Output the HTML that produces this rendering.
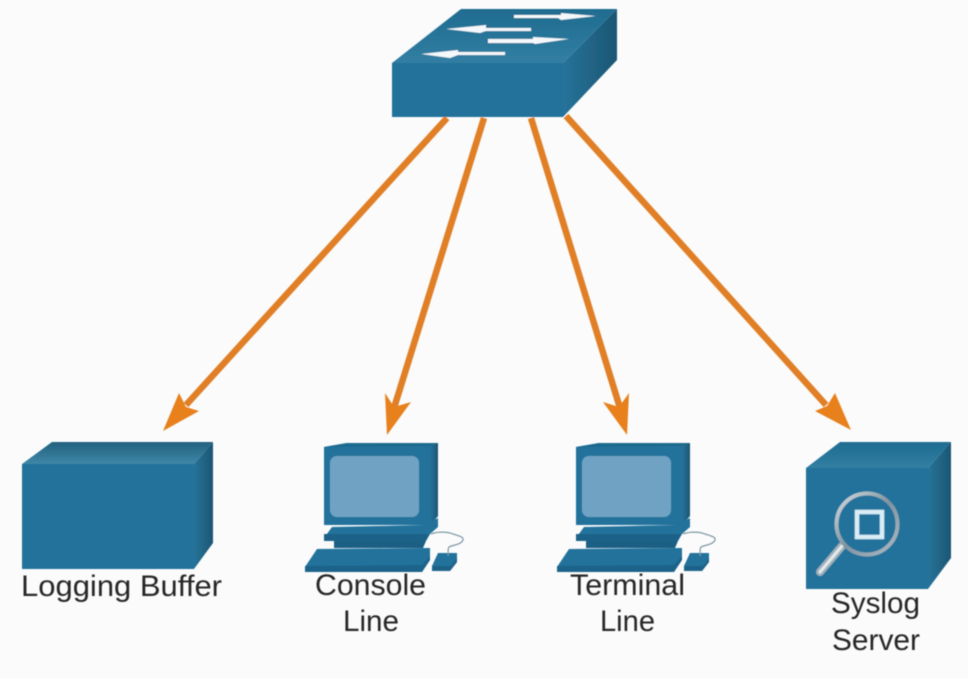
<!DOCTYPE html>
<html><head><meta charset="utf-8"><style>
html,body{margin:0;padding:0;background:#fbfbfb;width:968px;height:678px;overflow:hidden}
svg{display:block}
text{font-family:"Liberation Sans",Arial,sans-serif;font-size:30px;fill:#262626}
</style></head><body>
<svg width="968" height="678" viewBox="0 0 968 678" xmlns="http://www.w3.org/2000/svg">
<defs>
<linearGradient id="topG" x1="0" y1="0" x2="0" y2="1"><stop offset="0" stop-color="#22617f"/><stop offset="1" stop-color="#3f87a8"/></linearGradient>
<linearGradient id="swTop" x1="0" y1="0" x2="0" y2="1"><stop offset="0" stop-color="#1f6c90"/><stop offset="1" stop-color="#327fa3"/></linearGradient>
<linearGradient id="rightG" x1="0" y1="0" x2="1" y2="0"><stop offset="0" stop-color="#26739a"/><stop offset="1" stop-color="#1c5673"/></linearGradient>
<linearGradient id="ring" x1="0" y1="0" x2="1" y2="1"><stop offset="0" stop-color="#d5dde2"/><stop offset="0.5" stop-color="#7f939f"/><stop offset="1" stop-color="#aebcc5"/></linearGradient>
<filter id="soft"><feGaussianBlur stdDeviation="0.45"/></filter>
<g id="pc">
<polygon points="324,447 347,443 438,443 438,516 430,525 324,525" fill="#21729c"/>
<polygon points="430,445 438,443 438,516 430,525" fill="url(#rightG)"/>
<polygon points="324,447 347,443 438,443 430,446" fill="#1f6a8e"/>
<rect x="330" y="456" width="89" height="61" rx="7" fill="#6fa3c3"/>
<polygon points="324,538 332,527 424,525 438,518 438,527 430,534 324,534" fill="#21729c"/>
<polygon points="324,534 430,534 426,541 324,541" fill="#1b6288"/>
<polygon points="334,541 426,541 423,548 334,548" fill="#1a5f84"/>
<polygon points="317,549 430,548 430,560 422,572 305,572 305,567" fill="#21729c"/>
<polygon points="305,566 422,565 430,556 430,560 422,572 305,572" fill="#1c6489"/>
<polygon points="438,553 457,553 457,562 450,571 432,571 432,566" fill="#21729c"/>
<polygon points="432,566 451,566 457,558 457,562 450,571 432,571" fill="#1b6288"/>
<path d="M431,534 C436,532 446,531 453,534 C459,536 464,537 463,540 C461,545 452,545 449,547 C447,550 449,553 448,556" fill="none" stroke="#7d98a6" stroke-width="1.2"/>
</g>
</defs>
<rect width="968" height="678" fill="#fbfbfb"/>
<g filter="url(#soft)">
<!-- arrows -->
<g stroke="#e07f27" stroke-width="6.5" fill="none">
<line x1="447" y1="118" x2="186" y2="405"/>
<line x1="484" y1="118" x2="394" y2="408"/>
<line x1="531" y1="118" x2="620" y2="408"/>
<line x1="566" y1="116" x2="826" y2="405"/>
</g>
<g fill="#e8801f">
<polygon points="163,431 179,393 186,407 199,411"/>
<polygon points="387,435 385,393 394,407 411,402"/>
<polygon points="627,435 603,402 619,407 629,393"/>
<polygon points="851,430 815,411 827,406 835,393"/>
</g>
<!-- switch -->
<polygon points="392,63 461,9 617,9 563,63" fill="url(#swTop)"/>
<polygon points="563,63 617,9 617,60 563,117" fill="url(#rightG)"/>
<rect x="392" y="63" width="171" height="54" fill="#21729c"/>
<g fill="#f4f8fa">
<polygon points="514,15 561,15 561,13 596,16 561,20 558,18 514,18"/>
<polygon points="531,28 486,28 486,25 446,29 480,33 486,31 531,31"/>
<polygon points="488,39 533,39 533,37 569,39 535,44 533,43 488,43"/>
<polygon points="505,52 458,52 458,50 421,54 450,58 458,55 505,55"/>
</g>
<!-- logging buffer -->
<polygon points="22,464 52,442 213,442 194,464" fill="url(#topG)"/>
<polygon points="194,464 213,442 213,543 194,569" fill="url(#rightG)"/>
<rect x="22" y="464" width="172" height="105" fill="#21729c"/>
<!-- PCs -->
<use href="#pc"/>
<use href="#pc" x="252"/>
<!-- syslog -->
<polygon points="806,468 840,442 951,442 928,468" fill="url(#swTop)"/>
<polygon points="928,468 951,442 951,558 928,589" fill="url(#rightG)"/>
<rect x="806" y="468" width="122" height="121" fill="#21729c"/>
<line x1="842" y1="546" x2="820" y2="572" stroke="#9fb0ba" stroke-width="8" stroke-linecap="round"/>
<line x1="842" y1="546" x2="820" y2="572" stroke="#e3e9ec" stroke-width="3" stroke-linecap="round"/>
<circle cx="867" cy="524" r="30.5" fill="none" stroke="url(#ring)" stroke-width="4"/>
<rect x="857" y="512" width="25" height="25" fill="none" stroke="#d8edf6" stroke-width="4.5"/>
<!-- labels -->
<text x="21" y="596" textLength="201" lengthAdjust="spacingAndGlyphs">Logging Buffer</text>
<text x="315" y="595" textLength="111" lengthAdjust="spacingAndGlyphs">Console</text>
<text x="343" y="631" textLength="56" lengthAdjust="spacingAndGlyphs">Line</text>
<text x="570" y="595" textLength="115" lengthAdjust="spacingAndGlyphs">Terminal</text>
<text x="600" y="631" textLength="55" lengthAdjust="spacingAndGlyphs">Line</text>
<text x="831" y="613" textLength="89" lengthAdjust="spacingAndGlyphs">Syslog</text>
<text x="832" y="650" textLength="88" lengthAdjust="spacingAndGlyphs">Server</text>
</g>
</svg>
</body></html>
